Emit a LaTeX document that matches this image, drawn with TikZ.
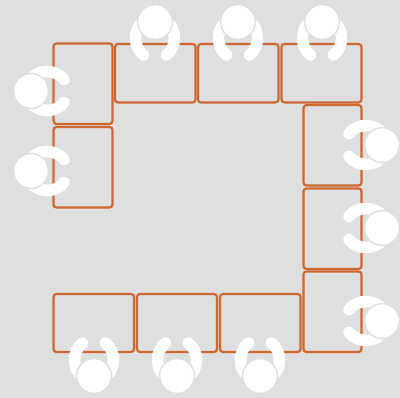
\documentclass[tikz,border=0pt]{standalone}
\usepackage{tikz}
\definecolor{roombg}{RGB}{223,223,223}
\definecolor{deskorange}{RGB}{207,103,48}

\begin{document}
\begin{tikzpicture}[x=1pt,y=-1pt,
    desk/.style={draw=deskorange,line width=2.2pt,rounded corners=3pt},
    arm/.style={draw=white,line width=11.5pt,line cap=round},
    head/.style={fill=white,draw=roombg,line width=1.5pt}]
        \fill[roombg] (0,0) rectangle (400,398);
        \useasboundingbox (0,0) rectangle (400,398);
        % desks: left, top, right, bottom
        \foreach \xa/\ya/\xb/\yb in {53.5/43.5/112.5/124,53.5/127/112.5/207.5,
            115/44/195.5/102.5,198/44/278.5/102.5,281.5/44/361.5/102.5,
            303.5/105/361.5/185.5,303.5/188.5/361.5/269,303.5/271.5/361.5/352,
            53.5/294/134/352,137/294/217/352,220/294/300.5/352}{
            \draw[desk] (\xa,\ya) rectangle (\xb,\yb);}
        % people
        \foreach \px/\py/\a in {155/22/0,238/22/0,322/22/0,31/91/90,31/171/90,
            382/145/-90,382/228/-90,382/321/-90,94/376/180,177/376/180,260/376/180}{
            \begin{scope}[shift={(\px,\py)},rotate=\a]
                \draw[arm] (-12,0) .. controls (-21,6) and (-23,24) .. (-11.5,33);
                \draw[arm] (12,0) .. controls (21,6) and (23,24) .. (11.5,33);
                \draw[head] (0,0) circle (17.5);
            \end{scope}}
      \end{tikzpicture}
\end{document}
